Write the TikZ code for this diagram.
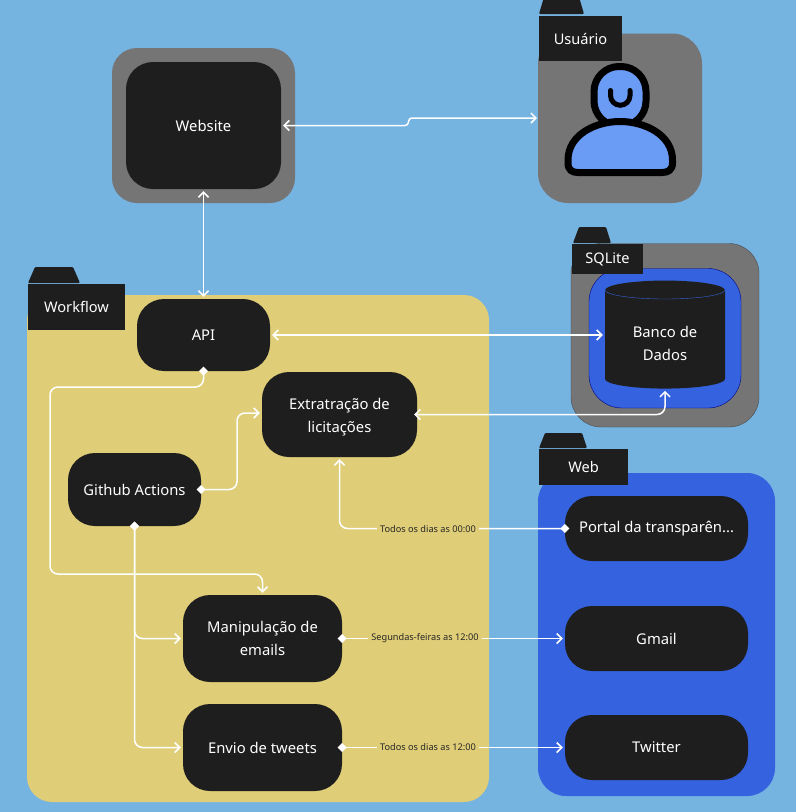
\documentclass[tikz,border=0pt]{standalone}
\usepackage{fontspec}
\setmainfont{Noto Sans}
\usetikzlibrary{arrows.meta,shapes.geometric}
\definecolor{skyback}{HTML}{75B3E1}
\definecolor{sandarea}{HTML}{DFCD77}
\definecolor{darkbox}{HTML}{1E1E1E}
\definecolor{greybox}{HTML}{757575}
\definecolor{webblue}{HTML}{3563DF}
\definecolor{userblue}{HTML}{6A9BF5}
\tikzset{
  box/.style={fill=darkbox,text=white,rounded corners=27,align=center,inner sep=0,
    font=\fontsize{14.8}{23}\selectfont},
  tabbox/.style={fill=darkbox,text=white,inner sep=0,font=\fontsize{14.6}{17}\selectfont},
  flap/.style={fill=darkbox,rounded corners=1},
  link/.style={white,line width=1.5,rounded corners=8,line cap=round,
    arrows={-{Straight Barb[length=5,width=10,line width=1.5]}},shorten >=2},
  both/.style={link,arrows={{Straight Barb[length=5,width=10,line width=1.5]}-{Straight Barb[length=5,width=10,line width=1.5]}},shorten <=2},
  from/.style={link,arrows={{Diamond[length=9,width=9,fill=white]}-{Straight Barb[length=5,width=10,line width=1.5]}},shorten <=-4.5},
  when/.style={fill=sandarea,text=black!85,inner xsep=3,inner ysep=2,font=\fontsize{9.2}{10}\selectfont},
}
\begin{document}
\begin{tikzpicture}[x=1pt,y=-1pt]
  \useasboundingbox (0,0) rectangle (796,812);
  \fill [skyback] (0,0) rectangle (796,812);

  % groups
  \fill [greybox,rounded corners=25] (112,48) rectangle (295,203);
  \fill [greybox,rounded corners=30] (538,33.5) rectangle (702,203);
  \filldraw [greybox,draw=black!70,rounded corners=30] (571,243.5) rectangle (759,427);
  \filldraw [webblue,draw=blue!50!black,rounded corners=33] (589,268.5) rectangle (741,408);
  \fill [sandarea,rounded corners=25] (27,295) rectangle (489,802);
  \fill [webblue,rounded corners=28] (538,473) rectangle (775,796);

  % folder tabs
  \fill [flap] (539,14) -- (544,-3) -- (579,-3) -- (584,14) -- cycle;
  \node [tabbox,minimum width=83,minimum height=45.5] (usertab) at (580.5,38.5) {Usuário};
  \fill [flap] (573,243) -- (579,227) -- (606,227) -- (611,243) -- cycle;
  \node [tabbox,minimum width=71,minimum height=30.5] (sqlitetab) at (607.5,259) {SQLite};
  \fill [flap] (28,283) -- (35,267) -- (73,267) -- (80,283) -- cycle;
  \node [tabbox,minimum width=97,minimum height=46] (flowtab) at (76.5,307) {Workflow};
  \fill [flap] (539,448) -- (545,433) -- (582,433) -- (587,448) -- cycle;
  \node [tabbox,minimum width=89,minimum height=36] (webtab) at (583.5,467) {Web};

  % boxes
  \node [box,minimum width=155,minimum height=127] (website) at (203.5,125.5) {Website};
  \node [box,minimum width=133,minimum height=72] (api) at (203.5,335) {API};
  \node [box,minimum width=155,minimum height=85] (extract) at (339.5,414.5)
    {\rule{0pt}{16pt}Extratração de\\licitações};
  \node [box,minimum width=133,minimum height=73] (actions) at (134.5,489.5) {Github Actions};
  \node [box,minimum width=159,minimum height=87] (mails) at (262.5,638.5) {Manipulação de\\emails};
  \node [box,minimum width=159,minimum height=87] (tweets) at (262.5,747.5) {Envio de tweets};
  \node [box,minimum width=183,minimum height=65] (portal) at (656.5,528.5) {Portal da transparên...};
  \node [box,minimum width=183,minimum height=65] (gmail) at (656.5,638.5) {Gmail};
  \node [box,minimum width=183,minimum height=65] (twitter) at (656.5,747.5) {Twitter};

  % database
  \node [cylinder,shape border rotate=90,aspect=0.3,fill=darkbox,text=white,align=center,
    inner sep=0,minimum width=120,minimum height=108,font=\fontsize{14.8}{23}\selectfont] (banco) at (665,339.5)
    {\rule{0pt}{20pt}Banco de\\Dados};
  \draw [webblue,thin] (605,290) arc [start angle=180,end angle=0,x radius=60,y radius=9];

  % person
  \node [minimum width=112,minimum height=113,inner sep=0] (person) at (620,119.5) {};
  \filldraw [userblue,draw=black,line width=7,rounded corners=25] (594,66.5) rectangle (646,126);
  \draw [black,line width=5,line cap=round] (610.5,90.5) -- (610.5,95.5) arc [start angle=180,end angle=0,x radius=9.75,y radius=9.75] -- (630,90.5);
  \filldraw [userblue,draw=black,line width=7] (568,160) .. controls (568,135) and (595,121.5) .. (620,121.5)
    .. controls (645,121.5) and (672.5,135) .. (672.5,160) -- (672.5,163)
    .. controls (672.5,170) and (668,172.5) .. (662,172.5) -- (578,172.5)
    .. controls (572,172.5) and (568,170) .. (568,163) -- cycle;

  % connectors
  \coordinate (stepmid) at (409,118);
  \coordinate (userside) at (539,118);
  \draw [both,rounded corners=3] (website.east) -- (408,125.5) -- (stepmid) -- (userside);
  \draw [both] (website.south) -- (api.north);
  \draw [both] (api.east) -- (banco.west |- api.east);
  \draw [both,shorten <=-3] (extract.east) -| (banco.south);

  \coordinate (apidown) at (203.5,387);
  \coordinate (apileft) at (50,387);
  \coordinate (apilow) at (50,574);
  \draw [from] (api.south) -- (apidown) -- (apileft) -- (apilow) -| (mails.north);

  \draw [from] (actions.east) -| (237,413) -- (extract.west |- 0,413);
  \draw [from] (actions.south) |- (mails.west);
  \draw [from] (actions.south) |- (tweets.west);

  \draw [from] (portal.west) -| (extract.south);
  \draw [from] (mails.east) -- (gmail.west);
  \draw [from] (tweets.east) -- (twitter.west);

  \node [when] (portalwhen) at (428,529) {Todos os dias as 00:00};
  \node [when] (mailswhen) at (425,638.5) {Segundas-feiras as 12:00};
  \node [when] (tweetswhen) at (428,747.5) {Todos os dias as 12:00};
\end{tikzpicture}
\end{document}
